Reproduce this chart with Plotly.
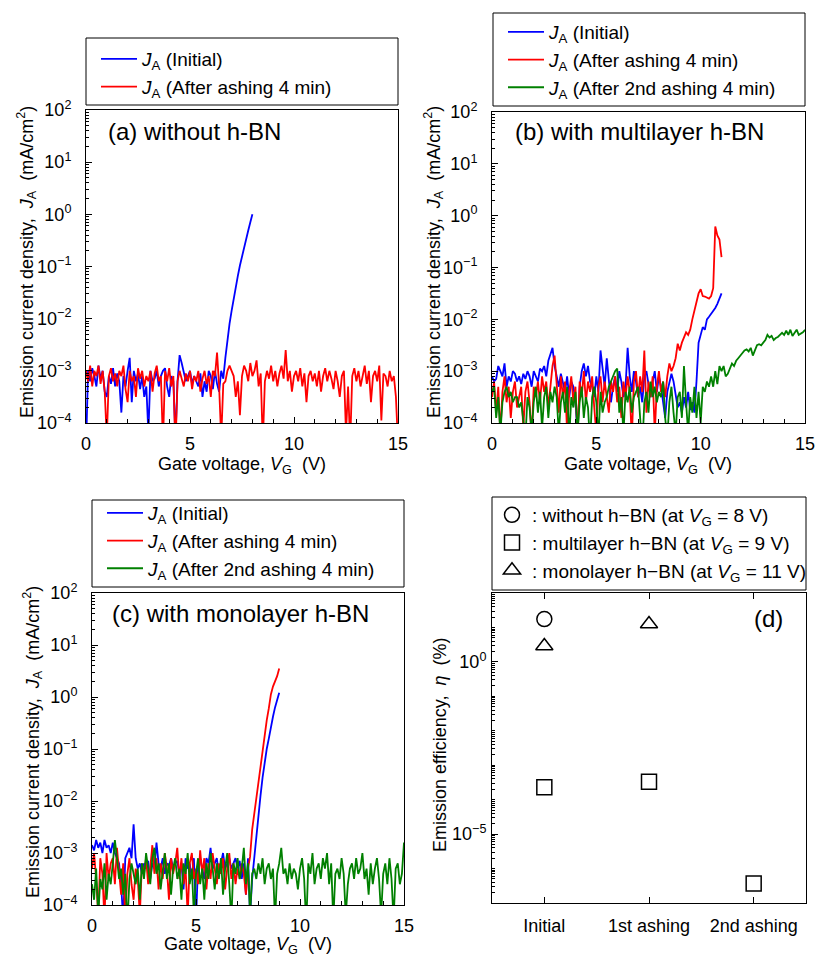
import plotly.graph_objects as go

W, H = 816, 960
VG_STEP = 0.1  # gate-voltage sampling step (V)

# ---------------- data: log10 of J_A (mA/cm^2), sampled every 0.1 V from 0 V ----------------
# Panel (a) without h-BN
a_initial = [
    -4.5, -3.0, -3.2, -2.95, -3.1, -3.3, -2.9, -3.15, -3.0, -3.4,
    -3.5, -3.1, -3.25, -2.95, -3.3, -3.05, -3.2, -3.8, -3.1, -3.3,
    -3.0, -2.75, -3.6, -3.0, -3.2, -3.05, -3.35, -3.1, -3.5, -3.3,
    -4.2, -3.0, -3.2, -3.15, -3.0, -3.3, -3.1, -3.0, -2.95, -3.3,
    -3.5, -3.1, -3.2, -4.3, -3.2, -2.7, -2.85, -3.0, -3.2, -3.1,
    -3.0, -3.25, -3.1, -3.2, -3.3, -3.05, -3.5, -3.2, -3.4, -3.0,
    -3.1, -3.35, -3.0, -3.25, -3.4, -3.0, -3.15, -2.75, -2.4, -2.1,
    -1.85, -1.6, -1.38, -1.18, -0.98, -0.8, -0.63, -0.47, -0.31, -0.15,
    0.0]
a_ashing = [
    -3.0, -3.2, -2.9, -3.3, -3.0, -3.1, -2.9, -3.25, -3.0, -3.4,
    -4.3, -3.1, -2.95, -3.2, -3.05, -3.3, -3.0, -3.1, -2.9, -3.35,
    -3.6, -3.0, -3.2, -3.1, -3.5, -2.95, -3.15, -3.0, -3.3, -3.1,
    -3.2, -3.0, -3.4, -3.05, -2.9, -3.2, -3.1, -4.4, -3.0, -3.2,
    -2.95, -3.3, -3.1, -4.5, -3.2, -3.0, -3.15, -3.3, -3.05, -3.2,
    -3.0, -3.35, -3.1, -3.2, -3.0, -3.4, -3.15, -3.0, -3.25, -3.1,
    -3.5, -3.0, -3.1, -2.65, -3.3, -4.3, -3.25, -3.2, -3.0, -2.9,
    -3.0, -3.1, -3.5, -3.2, -3.85, -3.1, -2.9, -3.0, -3.2, -2.85,
    -3.1, -3.0, -2.8, -3.3, -3.05, -4.4, -3.2, -3.0, -3.15, -2.9,
    -3.2, -3.0, -3.3, -3.05, -2.9, -3.15, -2.6, -3.2, -3.0, -3.4,
    -3.1, -3.0, -3.2, -2.95, -3.3, -3.05, -3.6, -3.1, -3.0, -3.2,
    -3.05, -3.3, -3.0, -3.4, -3.1, -2.95, -3.2, -3.0, -3.15, -3.35,
    -3.0, -3.2, -3.5, -3.1, -3.0, -4.2, -3.3, -4.4, -3.1, -2.95,
    -3.2, -3.0, -3.3, -3.1, -2.9, -3.25, -3.0, -3.6, -3.1, -3.0,
    -3.2, -2.9, -3.95, -3.05, -3.1, -3.3, -3.0, -3.2, -3.1, -3.5,
    -4.4]

# Panel (b) with multilayer h-BN
b_initial = [
    -3.1, -3.2, -3.15, -2.9, -3.0, -3.1, -2.85, -3.3, -3.1, -3.2,
    -3.0, -3.05, -3.2, -3.1, -3.25, -3.05, -3.15, -3.0, -3.1, -3.3,
    -3.0, -3.1, -3.2, -2.95, -3.0, -2.9, -3.1, -2.8, -2.65, -2.55,
    -2.9, -3.1, -3.3, -3.05, -3.2, -3.4, -3.1, -3.5, -3.2, -3.3,
    -3.6, -4.2, -3.3, -3.0, -2.85, -3.1, -2.9, -3.2, -3.3, -3.5,
    -3.1, -3.4, -2.6, -3.0, -3.3, -2.75, -3.2, -3.6, -3.3, -3.1,
    -3.4, -3.0, -3.2, -3.5, -3.3, -2.55, -3.1, -3.4, -3.0, -3.2,
    -3.5, -3.3, -3.6, -3.1, -3.0, -3.3, -3.5, -3.2, -3.0, -3.4,
    -3.1, -3.3, -3.6, -3.9, -3.4, -3.2, -3.05, -3.2, -3.5, -3.7,
    -3.6, -3.8, -3.5, -3.7, -3.4, -3.75, -3.6, -3.8, -3.2, -2.45,
    -2.3, -2.15, -2.2, -2.0, -1.95, -1.9, -1.85, -1.78, -1.7, -1.6,
    -1.5]
b_ashing = [
    -3.5, -3.2, -3.8, -3.3, -4.2, -3.4, -3.1, -3.6, -3.3, -3.9,
    -3.4, -3.2, -3.7, -3.5, -3.3, -4.1, -3.4, -3.2, -3.6, -4.3,
    -3.3, -3.5, -3.2, -3.6, -3.1, -3.4, -3.2, -3.7, -3.3, -2.9,
    -2.7, -3.3, -3.8, -3.1, -3.5, -3.2, -4.2, -3.4, -3.1, -3.6,
    -3.3, -4.3, -3.2, -3.5, -3.0, -3.6, -3.2, -3.4, -3.1, -3.7,
    -4.2, -3.3, -3.1, -3.6, -3.2, -3.5, -3.8, -3.2, -3.4, -3.1,
    -3.6, -3.3, -3.9, -3.2, -3.5, -3.1, -3.4, -4.3, -3.2, -3.0,
    -3.5, -3.1, -3.4, -2.6, -3.8, -3.2, -3.5, -3.1, -4.2, -3.3,
    -3.0, -3.4, -3.2, -3.5, -3.1, -2.85, -3.0, -2.9, -2.75, -2.47,
    -2.6, -2.45, -2.35, -2.25, -2.3, -2.2, -2.0, -1.85, -1.7, -1.5,
    -1.42, -1.55, -1.56, -1.58, -1.6, -1.55, -1.4, -0.21, -0.38, -0.46,
    -0.8]
b_ashing2 = [
    -3.4, -3.3, -3.9, -3.5, -4.2, -3.6, -3.4, -3.3, -3.5, -3.4,
    -3.6, -3.5, -3.5, -3.7, -3.6, -3.9, -4.3, -3.5, -3.7, -4.2,
    -3.6, -3.3, -3.8, -3.4, -4.1, -3.5, -3.3, -3.9, -3.4, -3.6,
    -3.3, -3.5, -4.2, -3.6, -3.4, -3.8, -3.3, -4.3, -3.5, -3.7,
    -3.4, -4.2, -3.6, -3.3, -3.9, -3.5, -3.7, -4.4, -3.5, -3.3,
    -3.6, -4.3, -3.4, -3.8, -3.6, -3.5, -3.3, -3.2, -3.1, -3.0,
    -2.95, -3.8, -3.5, -4.2, -3.4, -3.6, -3.3, -3.8, -3.5, -3.4,
    -3.3, -3.9, -4.5, -3.6, -3.4, -3.8, -3.2, -3.5, -3.3, -3.6,
    -3.4, -3.5, -3.2, -3.9, -4.3, -3.6, -3.3, -3.8, -4.2, -3.5,
    -3.4, -3.9, -2.9, -3.6, -4.2, -3.5, -3.8, -3.3, -3.9, -3.4,
    -4.0, -3.3, -3.4, -3.2, -3.3, -3.1, -3.3, -3.0, -3.25, -2.9,
    -3.0, -2.9, -3.1, -3.05, -2.95, -2.85, -2.9, -2.8, -2.75, -2.7,
    -2.65, -2.6, -2.58, -2.62, -2.55, -2.7, -2.6, -2.5, -2.48, -2.5,
    -2.45, -2.4, -2.3, -2.35, -2.32, -2.4, -2.36, -2.34, -2.3, -2.26,
    -2.3, -2.22, -2.3, -2.2, -2.32, -2.25, -2.2, -2.3, -2.28, -2.25,
    -2.2]

# Panel (c) with monolayer h-BN
c_initial = [
    -2.85, -2.95, -2.75, -2.9, -2.8, -3.0, -2.75, -2.9, -2.85, -3.0,
    -2.8, -3.0, -3.1, -3.2, -3.6, -4.3, -3.1, -3.0, -2.9, -3.1,
    -2.45, -3.1, -3.3, -3.2, -3.4, -3.2, -3.3, -3.15, -3.5, -3.2,
    -3.3, -2.8, -3.2, -3.3, -3.1, -3.4, -3.2, -3.25, -3.1, -3.3,
    -3.2, -3.15, -3.4, -3.2, -3.7, -3.1, -3.3, -3.2, -3.5, -3.1,
    -4.3, -3.2, -3.1, -3.3, -3.5, -3.1, -3.2, -2.9, -3.3, -3.2,
    -3.1, -3.4, -3.2, -3.0, -3.3, -3.2, -3.1, -3.3, -3.2, -3.1,
    -3.3, -3.15, -3.5, -3.2, -3.8, -3.1, -4.2, -3.5, -3.1, -2.65,
    -2.2, -1.9, -1.55, -1.25, -1.0, -0.8, -0.55, -0.38, -0.2, -0.07,
    0.08]
c_ashing = [
    -3.3, -3.0, -3.5, -4.2, -3.1, -3.4, -4.3, -3.0, -3.5, -3.2,
    -3.1, -3.6, -2.9, -3.3, -3.8, -3.2, -4.3, -3.4, -3.1, -3.6,
    -3.9, -3.3, -3.5, -4.2, -3.2, -3.4, -3.1, -3.6, -3.3, -2.85,
    -3.4, -3.1, -3.7, -3.2, -3.5, -3.0, -3.3, -3.9, -3.1, -3.4,
    -3.2, -2.9, -3.5, -3.1, -3.6, -3.3, -4.2, -3.2, -3.0, -3.5,
    -3.3, -3.6, -2.95, -3.4, -3.1, -3.7, -3.2, -3.5, -3.0, -3.3,
    -3.6, -3.2, -3.4, -3.1, -3.7, -3.3, -3.0, -3.5, -3.2, -3.6,
    -3.3, -3.5, -3.2, -3.4, -3.8, -3.3, -3.07, -2.55, -2.25, -1.95,
    -1.6, -1.3, -1.0, -0.72, -0.45, -0.22, 0.05, 0.2, 0.3, 0.4,
    0.55]
c_ashing2 = [
    -3.6, -3.9, -3.3, -4.2, -3.5, -3.7, -3.2, -3.9, -3.4, -3.6,
    -3.2, -2.75, -3.1, -3.5, -3.3, -3.8, -3.4, -4.4, -3.5, -3.2,
    -3.4, -3.6, -3.3, -3.9, -3.2, -3.5, -3.0, -3.3, -3.6, -3.1,
    -2.9, -3.4, -3.2, -3.7, -3.3, -3.0, -3.5, -3.2, -3.8, -3.3,
    -3.1, -3.5, -3.3, -3.9, -3.2, -3.4, -3.0, -3.6, -3.3, -4.2,
    -3.4, -3.1, -3.6, -3.3, -3.9, -3.2, -3.5, -3.0, -3.3, -3.7,
    -3.2, -3.5, -3.1, -3.8, -3.3, -3.0, -3.6, -4.3, -3.2, -3.4,
    -3.1, -3.5, -3.3, -2.9, -3.6, -3.2, -4.2, -3.4, -3.3, -3.5,
    -3.2, -3.4, -3.1, -3.6, -3.3, -3.2, -3.5, -3.3, -4.3, -3.4,
    -3.2, -2.9, -3.4, -3.3, -3.6, -3.2, -3.5, -3.3, -3.4, -3.7,
    -3.3, -3.1, -3.5, -4.4, -3.2, -3.4, -3.0, -3.6, -3.3, -3.2,
    -3.5, -3.1, -3.3, -3.0, -3.6, -3.2, -4.3, -3.4, -3.3, -3.5,
    -3.1, -3.4, -4.2, -3.6, -3.3, -3.2, -3.5, -3.1, -3.4, -3.3,
    -3.0, -3.5, -3.3, -3.8, -3.2, -3.6, -3.3, -3.1, -3.5, -4.2,
    -3.4, -3.2, -3.6, -3.1, -3.5, -4.3, -3.3, -3.2, -3.6, -3.4,
    -2.8]

# Panel (d) emission efficiency (%)
d_categories = ["Initial", "1st ashing", "2nd ashing"]
eta_without = [17.5, None, None]
eta_multilayer = [2.3e-4, 3.3e-4, 3.7e-7]
eta_monolayer = [2.9, 12.6, None]

y_tick_exps = [-4, -3, -2, -1, 0, 1, 2]

# ---------------- helpers ----------------
FONT = "Liberation Sans, Arial, sans-serif"
BLUE, RED, GREEN = "#0000ff", "#ff0000", "#008000"


def px_x(p):
    return p / W


def px_y(p):
    return 1 - p / H


def volts(vals):
    return [round(i * VG_STEP, 1) for i in range(len(vals))]


def dens(vals):
    return [10 ** v for v in vals]


def sup(n):
    s = str(n).replace("-", "\u2212")
    return f"10<sup>{s}</sup>"


def ja(label):
    return f"<i>J</i><sub>A</sub> ({label})"


fig = go.Figure()

panels = [
    ("x", "y", "legend", [(a_initial, BLUE, "Initial"), (a_ashing, RED, "After ashing 4 min")]),
    ("x2", "y2", "legend2", [(b_initial, BLUE, "Initial"), (b_ashing, RED, "After ashing 4 min"),
                              (b_ashing2, GREEN, "After 2nd ashing 4 min")]),
    ("x3", "y3", "legend3", [(c_initial, BLUE, "Initial"), (c_ashing, RED, "After ashing 4 min"),
                              (c_ashing2, GREEN, "After 2nd ashing 4 min")]),
]
for xa, ya, lg, series in panels:
    for vals, col, lab in series:
        fig.add_trace(go.Scatter(x=volts(vals), y=dens(vals), mode="lines", name=ja(lab),
                                 line=dict(color=col, width=1.8), xaxis=xa, yaxis=ya, legend=lg))

d_series = [
    (eta_without, "circle-open", ": without h\u2212BN (at <i>V</i><sub>G</sub> = 8 V)"),
    (eta_multilayer, "square-open", ": multilayer h\u2212BN (at <i>V</i><sub>G</sub> = 9 V)"),
    (eta_monolayer, "triangle-up-open", ": monolayer h\u2212BN (at <i>V</i><sub>G</sub> = 11 V)"),
]
for vals, sym, lab in d_series:
    fig.add_trace(go.Scatter(x=d_categories, y=vals, mode="markers", name=lab,
                             marker=dict(symbol=sym, size=15, color="black", line=dict(width=1.5, color="black")),
                             xaxis="x4", yaxis="y4", legend="legend4"))

# ---------------- axes ----------------
minor_log = [k * 10 ** n for n in range(-4, 2) for k in range(2, 10)]
minor_log_d = [k * 10 ** n for n in range(-7, 2) for k in range(1, 10) if not (k == 1 and n in (0, -5))] + [100]

TICKFONT = dict(size=18, color="black", family=FONT)
base = dict(showline=True, linecolor="black", linewidth=1, mirror=True, ticks="inside", tickcolor="black",
            ticklen=6, showgrid=False, zeroline=False, automargin=False, tickfont=TICKFONT)


def xv(domain):
    return dict(base, domain=domain, range=[0, 15], tickvals=[0, 5, 10, 15], ticklabelstandoff=4,
                minor=dict(ticks="inside", dtick=1, tick0=0, ticklen=4, tickcolor="black"))


def yv(domain):
    return dict(base, domain=domain, type="log", range=[-4, 2], tickvals=[10 ** e for e in y_tick_exps],
                ticktext=[sup(e) for e in y_tick_exps], ticklabelstandoff=10,
                minor=dict(ticks="inside", tickvals=minor_log, ticklen=3, tickcolor="black"))


fig.update_layout(
    xaxis=dict(xv([px_x(86), px_x(398)]), anchor="y"),
    yaxis=dict(yv([px_y(423), px_y(110)]), anchor="x"),
    xaxis2=dict(xv([px_x(492), px_x(805)]), anchor="y2"),
    yaxis2=dict(yv([px_y(423), px_y(112)]), anchor="x2"),
    xaxis3=dict(xv([px_x(92), px_x(404)]), anchor="y3"),
    yaxis3=dict(yv([px_y(905), px_y(593)]), anchor="x3"),
    xaxis4=dict(base, domain=[px_x(492), px_x(806)], anchor="y4", type="category", range=[-0.5, 2.5],
                mirror="ticks", ticklabelstandoff=6),
    yaxis4=dict(base, domain=[px_y(903), px_y(593)], anchor="x4", type="log", range=[-7, 2],
                tickvals=[1, 1e-5], ticktext=[sup(0), sup(-5)], ticklabelstandoff=1,
                minor=dict(ticks="inside", tickvals=minor_log_d, ticklen=3, tickcolor="black")),
)

# ---------------- legends (frames drawn as shapes) ----------------
leg_common = dict(xanchor="left", yanchor="top", bgcolor="rgba(0,0,0,0)", borderwidth=0,
                  font=dict(size=19, color="black", family=FONT), tracegroupgap=0, traceorder="normal",
                  itemwidth=36, itemclick=False, itemdoubleclick=False)
fig.update_layout(
    legend=dict(leg_common, x=px_x(96), y=px_y(40)),
    legend2=dict(leg_common, x=px_x(503), y=px_y(13)),
    legend3=dict(leg_common, x=px_x(102), y=px_y(494)),
    legend4=dict(leg_common, x=px_x(492), y=px_y(496), itemwidth=30,
                 font=dict(size=19, color="black", family=FONT)),
)

frames = [(86, 38, 398, 105), (493, 13, 805, 106), (92, 500, 404, 587), (492, 497, 806, 590)]
shapes = [dict(type="rect", xref="paper", yref="paper", x0=px_x(a), x1=px_x(c), y0=px_y(d), y1=px_y(b),
               line=dict(color="black", width=1)) for a, b, c, d in frames]

# ---------------- annotations ----------------
ann = []


def text(x, y, s, size, angle=0, xanchor="center"):
    ann.append(dict(x=px_x(x), y=px_y(y), xref="paper", yref="paper", text=s, showarrow=False,
                    textangle=angle, xanchor=xanchor, yanchor="middle",
                    font=dict(size=size, color="black", family=FONT)))


text(106, 132, "(a) without h-BN", 24, xanchor="left")
text(513, 132, "(b) with multilayer h-BN", 24, xanchor="left")
text(110, 613, "(c) with monolayer h-BN", 24, xanchor="left")
text(768, 618, "(d)", 24)
ytitle = "Emission current density, \u00a0<i>J</i><sub>A</sub> \u00a0(mA/cm<sup>2</sup>)"
text(26, 262, ytitle, 18, angle=-90)
text(433, 262, ytitle, 18, angle=-90)
text(32, 742, ytitle, 18, angle=-90)
text(440, 745, "Emission efficiency, \u00a0<i>\u03b7</i> \u00a0(%)", 18, angle=-90)
xtitle = "Gate voltage, <i>V</i><sub>G</sub> \u00a0(V)"
text(242, 465, xtitle, 18)
text(648, 465, xtitle, 18)
text(248, 945, xtitle, 18)

fig.update_layout(width=W, height=H, margin=dict(l=0, r=0, t=0, b=0), paper_bgcolor="white",
                  plot_bgcolor="white", font=dict(family=FONT, color="black"), shapes=shapes,
                  annotations=ann, showlegend=True, template="none")

fig.write_html("out.html", config={"displayModeBar": False},
               post_script="document.body.style.margin='0px';document.body.style.overflow='hidden';")
